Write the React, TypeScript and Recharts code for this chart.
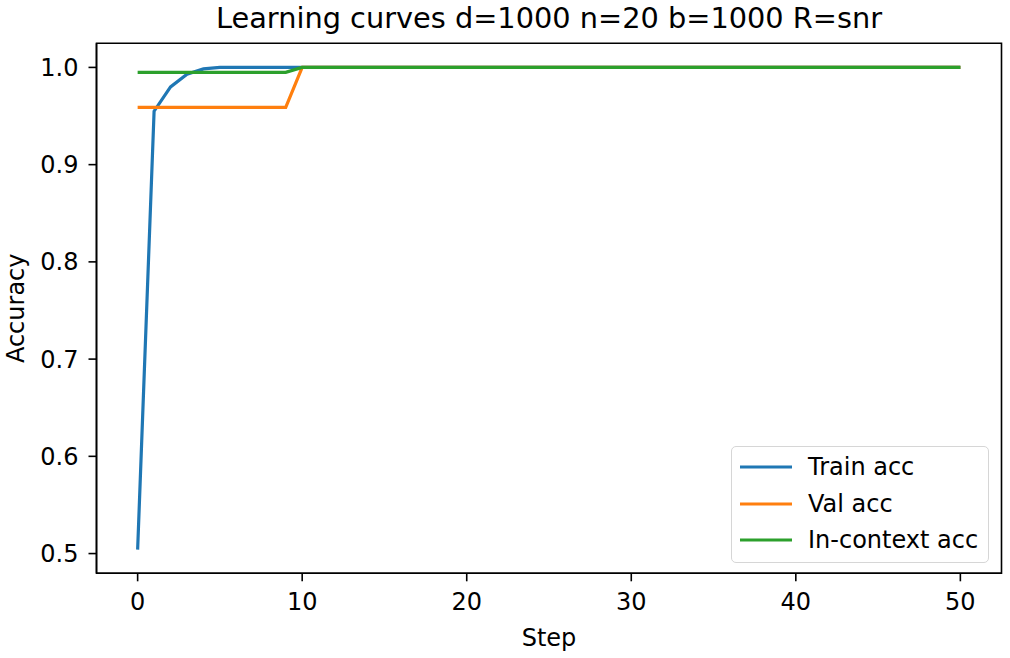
import { LineChart, Line, XAxis, YAxis, Legend, Label, ReferenceArea } from "recharts";

const steps = [
  0, 1, 2, 3, 4, 5, 6, 7, 8, 9, 10, 11, 12, 13, 14, 15, 16, 17, 18, 19, 20, 21, 22, 23, 24, 25,
  26, 27, 28, 29, 30, 31, 32, 33, 34, 35, 36, 37, 38, 39, 40, 41, 42, 43, 44, 45, 46, 47, 48, 49, 50,
];

const trainAcc = [
  0.504, 0.955, 0.98, 0.993, 0.9985, 1.0, 1.0, 1.0, 1.0, 1.0, 1.0, 1.0, 1.0, 1.0, 1.0, 1.0, 1.0,
  1.0, 1.0, 1.0, 1.0, 1.0, 1.0, 1.0, 1.0, 1.0, 1.0, 1.0, 1.0, 1.0, 1.0, 1.0, 1.0, 1.0, 1.0, 1.0,
  1.0, 1.0, 1.0, 1.0, 1.0, 1.0, 1.0, 1.0, 1.0, 1.0, 1.0, 1.0, 1.0, 1.0, 1.0,
];

const valAcc = [
  0.959, 0.959, 0.959, 0.959, 0.959, 0.959, 0.959, 0.959, 0.959, 0.959, 1.0, 1.0, 1.0, 1.0, 1.0,
  1.0, 1.0, 1.0, 1.0, 1.0, 1.0, 1.0, 1.0, 1.0, 1.0, 1.0, 1.0, 1.0, 1.0, 1.0, 1.0, 1.0, 1.0, 1.0,
  1.0, 1.0, 1.0, 1.0, 1.0, 1.0, 1.0, 1.0, 1.0, 1.0, 1.0, 1.0, 1.0, 1.0, 1.0, 1.0, 1.0,
];

const inContextAcc = [
  0.995, 0.995, 0.995, 0.995, 0.995, 0.995, 0.995, 0.995, 0.995, 0.995, 1.0, 1.0, 1.0, 1.0, 1.0,
  1.0, 1.0, 1.0, 1.0, 1.0, 1.0, 1.0, 1.0, 1.0, 1.0, 1.0, 1.0, 1.0, 1.0, 1.0, 1.0, 1.0, 1.0, 1.0,
  1.0, 1.0, 1.0, 1.0, 1.0, 1.0, 1.0, 1.0, 1.0, 1.0, 1.0, 1.0, 1.0, 1.0, 1.0, 1.0, 1.0,
];

const xTicks = [0, 10, 20, 30, 40, 50];
const yTicks = [0.5, 0.6, 0.7, 0.8, 0.9, 1.0];
const xDomain: [number, number] = [-2.5, 52.5];
const yDomain: [number, number] = [0.4797, 1.0248];

const series = [
  { key: "train", name: "Train acc", color: "#1f77b4" },
  { key: "val", name: "Val acc", color: "#ff7f0e" },
  { key: "ctx", name: "In-context acc", color: "#2ca02c" },
];

const data = steps.map((s, i) => ({
  step: s,
  train: trainAcc[i],
  val: valAcc[i],
  ctx: inContextAcc[i],
}));

const FONT = "'DejaVu Sans', sans-serif";
const tickStyle = { fontSize: 24, fill: "#000", fontFamily: FONT };

function LegendBox() {
  return (
    <div
      style={{
        width: 258,
        height: 117,
        boxSizing: "border-box",
        border: "1.5px solid #d6d6d6",
        borderRadius: 5,
        background: "rgba(255,255,255,0.8)",
        paddingTop: 2,
        fontFamily: FONT,
        fontSize: 24,
        color: "#000",
      }}
    >
      {series.map((s) => (
        <div key={s.key} style={{ display: "flex", alignItems: "center", height: 36.5 }}>
          <svg width={76} height={10} style={{ flex: "none" }}>
            <line x1={8} y1={5} x2={60} y2={5} stroke={s.color} strokeWidth={3.2} />
          </svg>
          <span style={{ lineHeight: "36px", whiteSpace: "nowrap" }}>{s.name}</span>
        </div>
      ))}
    </div>
  );
}

export default function App() {
  return (
    <div style={{ position: "absolute", left: 0, top: 0, width: 1010, height: 658, background: "#fff" }}>
      <LineChart
        width={1010}
        height={658}
        data={data}
        margin={{ top: 43.3, right: 8.5, bottom: 0, left: 0 }}
        style={{ fontFamily: FONT }}
      >
        <text x={549} y={27.7} textAnchor="middle" fontSize={28.8} fontFamily={FONT} fill="#000">
          Learning curves d=1000 n=20 b=1000 R=snr
        </text>
        <XAxis
          dataKey="step"
          type="number"
          domain={xDomain}
          ticks={xTicks}
          allowDataOverflow
          height={84.7}
          tick={tickStyle}
          tickSize={8}
          tickMargin={12}
          stroke="#000"
          strokeWidth={1.6}
          tickLine={{ stroke: "#000", strokeWidth: 1.6 }}
        >
          <Label value="Step" position="insideBottom" offset={12.5} style={{ fontSize: 24, fill: "#000", fontFamily: FONT }} />
        </XAxis>
        <YAxis
          type="number"
          domain={yDomain}
          ticks={yTicks}
          allowDataOverflow
          width={96.5}
          tick={tickStyle}
          tickFormatter={(v: number) => v.toFixed(1)}
          tickSize={8}
          tickMargin={10}
          stroke="#000"
          strokeWidth={1.6}
          tickLine={{ stroke: "#000", strokeWidth: 1.6 }}
        >
          <Label
            value="Accuracy"
            angle={-90}
            position="insideLeft"
            offset={15}
            style={{ fontSize: 24, fill: "#000", fontFamily: FONT, textAnchor: "middle" }}
          />
        </YAxis>
        <ReferenceArea
          x1={xDomain[0]}
          x2={xDomain[1]}
          y1={yDomain[0]}
          y2={yDomain[1]}
          fill="none"
          stroke="#000"
          strokeWidth={1.6}
          ifOverflow="visible"
        />
        <Legend
          layout="horizontal"
          verticalAlign="middle"
          align="center"
          wrapperStyle={{ left: 731, top: 446, width: 258, height: 117 }}
          content={() => <LegendBox />}
        />
        {series.map((s) => (
          <Line
            key={s.key}
            dataKey={s.key}
            name={s.name}
            type="linear"
            stroke={s.color}
            strokeWidth={3.2}
            dot={false}
            activeDot={false}
            isAnimationActive={false}
          />
        ))}
      </LineChart>
    </div>
  );
}
